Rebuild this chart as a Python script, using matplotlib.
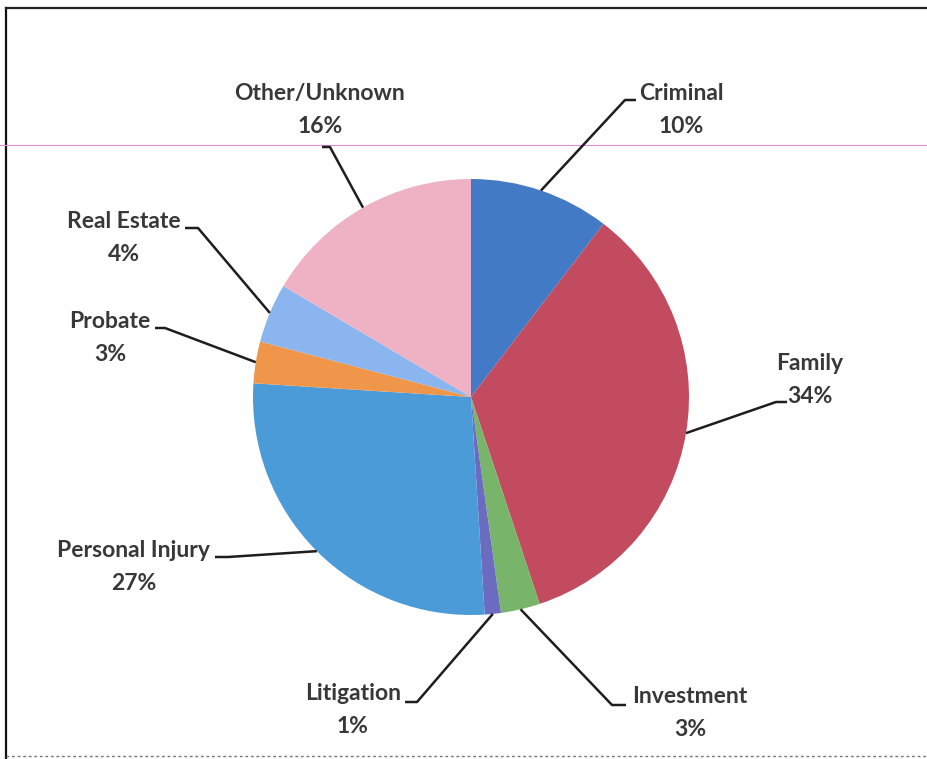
import numpy as np
import matplotlib.pyplot as plt

# Datos (sentido horario desde las 12)
categorias = ["Criminal", "Family", "Investment", "Litigation",
              "Personal Injury", "Probate", "Real Estate", "Other/Unknown"]
valores = [10.4, 34.5, 2.9, 1.2, 27.0, 3.1, 4.4, 16.5]
etiquetas_pct = ["10%", "34%", "3%", "1%", "27%", "3%", "4%", "16%"]

colores = ["#437ac6", "#c24b5f", "#78b56a", "#6b6cc0",
           "#4b9bd9", "#f0964b", "#8ab5ee", "#efb2c5"]

# Posición del texto (centro, px desde arriba) y codo de la línea guía
layout = {
    "Criminal":        dict(txt=(681, 110), codo=(625, 100), cola=(636, 100)),
    "Family":          dict(txt=(810, 380), codo=(776, 402), cola=(787, 402)),
    "Investment":      dict(txt=(690, 713), codo=(612, 705), cola=(626, 705)),
    "Litigation":      dict(txt=(353, 710), codo=(417, 702), cola=(405, 702)),
    "Personal Injury": dict(txt=(134, 567), codo=(228, 557), cola=(215, 557)),
    "Probate":         dict(txt=(110, 338), codo=(165, 328), cola=(155, 328)),
    "Real Estate":     dict(txt=(124, 238), codo=(198, 228), cola=(185, 228)),
    "Other/Unknown":   dict(txt=(320, 110), codo=(330, 147), cola=(322, 147)),
}

W, H = 927, 759
CX, CY, R = 471, 397, 218

fig = plt.figure(figsize=(W / 100, H / 100), dpi=100)
ax = fig.add_axes([0, 0, 1, 1])

wedges, _ = ax.pie(valores, colors=colores, startangle=90, counterclock=False,
                   center=(CX, H - CY), radius=R,
                   wedgeprops=dict(linewidth=0))

ax.set_xlim(0, W)
ax.set_ylim(0, H)
ax.set_aspect("equal", adjustable="box")
ax.axis("off")

# Etiquetas con líneas guía
for w, cat, pct in zip(wedges, categorias, etiquetas_pct):
    lay = layout[cat]
    ang = np.deg2rad((w.theta1 + w.theta2) / 2)
    x0 = CX + R * np.cos(ang)
    y0 = (H - CY) + R * np.sin(ang)
    ex, ey = lay["codo"]
    tx, ty = lay["cola"]
    ax.plot([x0, ex, tx], [y0, H - ey, H - ty], color="#1e1e1e", lw=1.8,
            solid_capstyle="butt", zorder=5)
    ax.text(lay["txt"][0], H - lay["txt"][1], f"{cat}\n{pct}",
            ha="center", va="center", fontsize=16.5, fontweight="bold",
            family="Lato", color="#383838", linespacing=1.68)

# Marco del escaneo
ax.plot([6, 6], [0, H - 8], color="#111111", lw=1.6)
ax.plot([6, W], [H - 8, H - 8], color="#222222", lw=1.6)
ax.plot([6, W], [3, 3], color="#777777", lw=1.0, ls=(0, (2, 2)))
ax.plot([0, W], [H - 145, H - 145], color="#e08ce0", lw=0.8)

fig.savefig("out.png", dpi=100, facecolor="white")
